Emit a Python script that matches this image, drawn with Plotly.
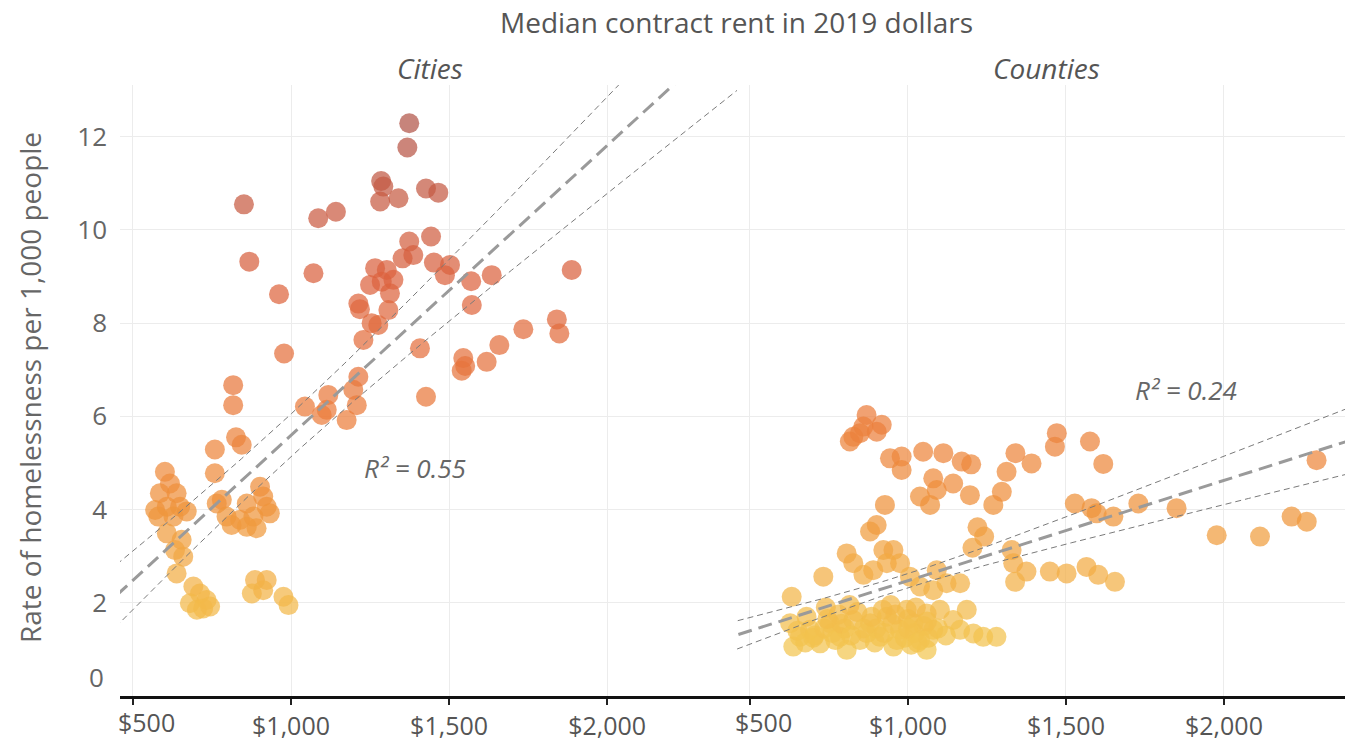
import numpy as np
import plotly.graph_objects as go

# ---------------- data ----------------
CITY_RENT = [1374, 1368, 1285, 1292, 1282, 1340, 1427, 1466,
             851, 1086, 1142, 868, 1071, 962, 978,
             1374, 1443, 1353, 1387, 1452, 1503, 1487, 1570, 1635, 1572,
             1266, 1303, 1250, 1287, 1324, 1313, 1213, 1218, 1308, 1255, 1276, 1229,
             1888, 1841, 1849, 1735, 1659, 1619, 1545, 1551, 1540, 1408, 1427,
             1213, 1197, 1208, 1176, 1118, 1113, 1044, 1097,
             817, 817, 826, 844, 759, 759,
             601, 617, 585, 638, 570, 607, 649, 580, 628, 670, 607, 654, 633, 659, 638,
             691, 712, 680, 733, 702, 722, 744,
             886, 923, 876, 912, 976, 992,
             765, 781, 796, 812, 839, 860, 902, 912, 923, 881, 933, 891, 860]
CITY_RATE = [12.29, 11.77, 11.05, 10.93, 10.61, 10.68, 10.89, 10.80,
             10.55, 10.25, 10.39, 9.32, 9.07, 8.62, 7.35,
             9.75, 9.86, 9.39, 9.46, 9.30, 9.25, 9.03, 8.90, 9.03, 8.39,
             9.18, 9.14, 8.82, 8.89, 8.93, 8.64, 8.42, 8.30, 8.28, 8.00, 7.96, 7.64,
             9.14, 8.08, 7.78, 7.87, 7.53, 7.17, 7.25, 7.08, 6.98, 7.46, 6.42,
             6.85, 6.57, 6.24, 5.92, 6.46, 6.14, 6.21, 6.03,
             6.67, 6.24, 5.55, 5.39, 5.29, 4.78,
             4.81, 4.56, 4.35, 4.35, 3.99, 4.06, 4.06, 3.85, 3.85, 3.96, 3.49, 3.35, 3.13, 2.99, 2.63,
             2.35, 2.20, 1.99, 2.06, 1.85, 1.88, 1.92,
             2.49, 2.49, 2.20, 2.27, 2.13, 1.95,
             4.13, 4.21, 3.85, 3.67, 3.78, 4.13, 4.49, 4.28, 4.06, 3.85, 3.92, 3.60, 3.63]

COUNTY_RENT = [869, 917, 901, 859, 827, 816, 848,
               943, 980, 980, 1048, 1112, 1170, 1200, 1080, 1091, 1038, 1070, 1143, 1196,
               1270, 1297, 1340, 1312, 1391,
               927, 901, 880, 1220, 1241, 1204, 1328, 1333, 1375, 1339, 1449, 1502, 1565, 1602, 1655,
               1471, 1465, 1576, 1618, 1528, 1581, 1597, 1650, 1729, 1850, 1977, 2114, 2214, 2262, 2293,
               806, 827, 922, 954, 933, 975, 732, 859, 890, 1006, 1091, 1165, 1122, 1038, 1080, 632,
               627, 658, 690, 722, 753, 785, 827, 848, 880, 911, 933, 975, 996, 1017, 1038, 1059,
               1059, 1080, 1101, 1143, 1186, 1165, 1207, 1238, 1280, 679, 637, 806, 954,
               700, 760, 800, 870, 900, 950, 990, 1020, 1050, 1000, 960, 920, 840, 780, 740, 1010,
               650, 675, 705, 735, 770, 790, 820, 860, 895, 925, 965, 1000, 1030, 1065, 1095, 1120,
               745, 815, 885, 945, 1025, 1060]
COUNTY_RATE = [6.03, 5.82, 5.67, 5.78, 5.56, 5.46, 5.64,
               5.10, 5.14, 4.85, 5.24, 5.21, 5.03, 4.97, 4.67, 4.42, 4.28, 4.10, 4.56, 4.31,
               4.10, 4.38, 5.21, 4.81, 4.99,
               4.10, 3.67, 3.53, 3.62, 3.42, 3.18, 3.13, 2.85, 2.67, 2.45, 2.67, 2.63, 2.77, 2.60, 2.45,
               5.64, 5.35, 5.46, 4.98, 4.13, 4.03, 3.92, 3.85, 4.13, 4.03, 3.45, 3.42, 3.85, 3.74, 5.06,
               3.06, 2.85, 3.13, 3.13, 2.85, 2.85, 2.56, 2.60, 2.70, 2.56, 2.70, 2.42, 2.42, 2.35, 2.27, 2.13,
               1.56, 1.27, 1.42, 1.13, 1.56, 1.27, 1.63, 1.20, 1.56, 1.27, 1.70, 1.42, 1.85, 1.56, 1.20, 1.77,
               0.99, 1.42, 1.85, 1.63, 1.85, 1.42, 1.34, 1.27, 1.27, 1.70, 1.06, 0.99, 1.06,
               1.25, 1.35, 1.45, 1.35, 1.45, 1.55, 1.25, 1.35, 1.50, 1.65, 1.75, 1.85, 1.80, 1.75, 1.90, 1.10,
               1.40, 1.15, 1.30, 1.45, 1.20, 1.55, 1.30, 1.45, 1.15, 1.35, 1.20, 1.45, 1.15, 1.25, 1.45, 1.30,
               1.65, 1.95, 1.70, 1.95, 1.90, 1.60]

X_TICKS = [500, 1000, 1500, 2000]
X_TICK_LABELS = ["", "$1,000", "$1,500", "$2,000"]
X_FIRST_LABEL = "$500"
Y_TICKS = [0, 2, 4, 6, 8, 10, 12]
Y_TICK_LABELS = ["", "2", "4", "6", "8", "10", "12"]

# regression line [intercept, slope] and confidence band [centre rent, min half-width, growth]
CITY_FIT = [-0.624, 0.006217]
CITY_BAND = [973, 0.457, 8.98e-4]
COUNTY_FIT = [0.322, 0.002152]
COUNTY_BAND = [989, 0.15, 4.905e-4]
CITY_R2 = "R² = 0.55"
COUNTY_R2 = "R² = 0.24"
CITY_R2_POS = [1392, 4.89]
COUNTY_R2_POS = [1880, 6.57]

TITLE = "Median contract rent in 2019 dollars"
Y_TITLE = "Rate of homelessness per 1,000 people"
PANELS = ["Cities", "Counties"]

# ---------------- styling ----------------
FONT = "Open Sans"
GREY = "#666666"
COLORSCALE = [[0.0, "rgb(243,198,80)"], [0.1, "rgb(243,182,72)"], [0.27, "rgb(239,146,58)"],
              [0.45, "rgb(235,124,60)"], [0.7, "rgb(220,98,62)"], [1.0, "rgb(178,84,72)"]]
X_RANGE_C = [458.9, 2411]
X_RANGE_K = [458.9, 2383]
Y_RANGE = [0, 13.11]
TICK_SIZE = 25

fig = go.Figure()


def add_panel(rent, rate, fit, band, xa, ya):
    fig.add_trace(go.Scatter(
        x=rent, y=rate, mode="markers", xaxis=xa, yaxis=ya, hoverinfo="skip",
        marker=dict(size=20, color=rate, colorscale=COLORSCALE, cmin=1, cmax=12.3,
                    opacity=0.72, line=dict(width=0)), showlegend=False))
    xs = np.linspace(400, 2500, 200)
    yfit = fit[0] + fit[1] * xs
    hw = np.sqrt(band[1] ** 2 + (band[2] * (xs - band[0])) ** 2)
    for off, w, d, c in [(hw, 1, "6px,4px", "#7a7a7a"), (-hw, 1, "6px,4px", "#7a7a7a"),
                         (0 * hw, 3, "14px,7px", "#9a9a9a")]:
        fig.add_trace(go.Scatter(x=xs, y=yfit + off, mode="lines", xaxis=xa, yaxis=ya,
                                 hoverinfo="skip", showlegend=False,
                                 line=dict(color=c, width=w, dash=d)))


add_panel(CITY_RENT, CITY_RATE, CITY_FIT, CITY_BAND, "x", "y")
add_panel(COUNTY_RENT, COUNTY_RATE, COUNTY_FIT, COUNTY_BAND, "x2", "y2")

W, H = 1345, 744
L, MID, T, B = 120, 737, 85, 696

xcommon = dict(tickvals=X_TICKS, ticktext=X_TICK_LABELS, showgrid=True, gridcolor="#ececec",
               gridwidth=1, showline=True, linecolor="#111111", linewidth=3, ticks="outside",
               ticklen=6, tickwidth=1.5, tickcolor="#222222", zeroline=False, automargin=False,
               tickfont=dict(family=FONT, size=TICK_SIZE, color="#555555"))
ycommon = dict(range=Y_RANGE, tickvals=Y_TICKS, showgrid=True, gridcolor="#ececec",
               gridwidth=1, zeroline=False, showline=False, ticks="", automargin=False)

fig.update_layout(
    width=W, height=H, plot_bgcolor="white", paper_bgcolor="white",
    margin=dict(l=0, r=0, t=T, b=H - B),
    font=dict(family=FONT, color=GREY),
    xaxis=dict(domain=[L / W, MID / W], range=X_RANGE_C, anchor="y", **xcommon),
    xaxis2=dict(domain=[MID / W, 1], range=X_RANGE_K, anchor="y2", **xcommon),
    yaxis=dict(anchor="x", ticktext=Y_TICK_LABELS, ticklabelstandoff=12,
               tickfont=dict(family=FONT, size=26, color=GREY), **ycommon),
    yaxis2=dict(anchor="x2", matches="y", showticklabels=False, **ycommon),
)

ann = []
ann.append(dict(text=TITLE, xref="paper", yref="paper", x=736 / W, y=(B - 22) / (B - T),
                xanchor="center", yanchor="middle", showarrow=False,
                font=dict(family=FONT, size=28, color="#555555")))
for name, cx in zip(PANELS, [430, 1046]):
    ann.append(dict(text="<i>" + name + "</i>", xref="paper", yref="paper", x=cx / W,
                    y=(B - 68) / (B - T), xanchor="center", yanchor="middle", showarrow=False,
                    font=dict(family=FONT, size=28, color="#555555")))
ann.append(dict(text=Y_TITLE, xref="paper", yref="paper", x=30 / W, y=(B - 388) / (B - T),
                xanchor="center", yanchor="middle",
                textangle=-90, showarrow=False, font=dict(family=FONT, size=28, color=GREY)))
ann.append(dict(text="0", xref="paper", yref="y", x=106 / W, y=Y_TICKS[0], xanchor="right",
                yanchor="middle", yshift=19, showarrow=False,
                font=dict(family=FONT, size=26, color=GREY)))
for xr in ["x", "x2"]:
    ann.append(dict(text=X_FIRST_LABEL, xref=xr, yref="paper", x=X_TICKS[0], y=0,
                    xanchor="left", yanchor="middle", xshift=-4 - (133 - 120), yshift=-26,
                    showarrow=False, font=dict(family=FONT, size=TICK_SIZE, color="#555555")))
ann.append(dict(text="<i>" + CITY_R2 + "</i>", xref="x", yref="y", x=CITY_R2_POS[0],
                y=CITY_R2_POS[1], xanchor="center", yanchor="middle", showarrow=False,
                font=dict(family=FONT, size=26, color=GREY)))
ann.append(dict(text="<i>" + COUNTY_R2 + "</i>", xref="x2", yref="y2", x=COUNTY_R2_POS[0],
                y=COUNTY_R2_POS[1], xanchor="center", yanchor="middle", showarrow=False,
                font=dict(family=FONT, size=26, color=GREY)))
fig.update_layout(annotations=ann)

fig.write_html("out.html")
